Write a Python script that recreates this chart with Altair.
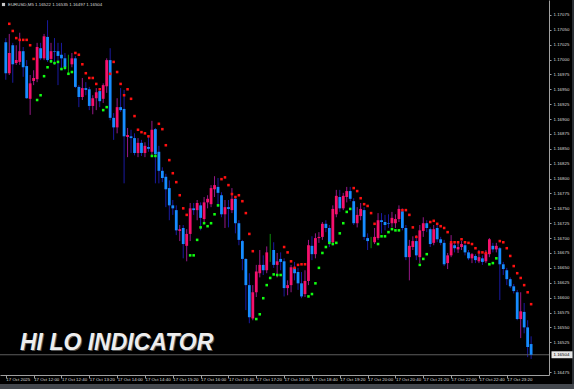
import altair as alt
import pandas as pd

symbol_line = "EURUSD,M5  1.16522 1.16535 1.16497 1.16504"
watermark = "HI LO INDICATOR"

opens = [1.17029, 1.16977, 1.17024, 1.16994, 1.16996, 1.17014, 1.16989, 1.16934, 1.16964, 1.16967,
         1.17019, 1.17002, 1.17038, 1.17001, 1.17014, 1.17014, 1.17008, 1.17002, 1.16991, 1.16992,
         1.17002, 1.16954, 1.16937, 1.16952, 1.16950, 1.16922, 1.16935, 1.16947, 1.16934, 1.16955,
         1.16999, 1.16902, 1.16886, 1.16920, 1.16917, 1.16870, 1.16871, 1.16868, 1.16843, 1.16860,
         1.16843, 1.16853, 1.16845, 1.16883, 1.16845, 1.16813, 1.16803, 1.16784, 1.16755, 1.16747,
         1.16712, 1.16717, 1.16687, 1.16707, 1.16750, 1.16747, 1.16755, 1.16732, 1.16760, 1.16757,
         1.16782, 1.16786, 1.16772, 1.16740, 1.16752, 1.16747, 1.16766, 1.16725, 1.16695, 1.16665,
         1.16621, 1.16565, 1.16609, 1.16641, 1.16655, 1.16646, 1.16676, 1.16680, 1.16655, 1.16665,
         1.16661, 1.16616, 1.16621, 1.16650, 1.16643, 1.16624, 1.16606, 1.16628, 1.16687, 1.16673,
         1.16700, 1.16702, 1.16724, 1.16717, 1.16693, 1.16740, 1.16769, 1.16750, 1.16769, 1.16779,
         1.16762, 1.16725, 1.16737, 1.16747, 1.16700, 1.16693, 1.16693, 1.16700, 1.16730, 1.16727,
         1.16725, 1.16725, 1.16725, 1.16732, 1.16745, 1.16717, 1.16668, 1.16685, 1.16695, 1.16668,
         1.16712, 1.16725, 1.16715, 1.16692, 1.16717, 1.16698, 1.16692, 1.16658, 1.16671, 1.16688,
         1.16681, 1.16685, 1.16688, 1.16676, 1.16666, 1.16670, 1.16661, 1.16666, 1.16661, 1.16673,
         1.16687, 1.16681, 1.16683, 1.16656, 1.16646, 1.16631, 1.16619, 1.16609, 1.16564, 1.16576,
         1.16550, 1.16522]

highs = [1.17036, 1.17043, 1.17028, 1.17024, 1.17045, 1.17021, 1.16999, 1.16974, 1.16982, 1.17028,
         1.17028, 1.17043, 1.17066, 1.17028, 1.17036, 1.17028, 1.17028, 1.17011, 1.17008, 1.17011,
         1.17006, 1.16957, 1.16969, 1.16962, 1.16954, 1.16940, 1.16952, 1.16952, 1.16960, 1.17002,
         1.17019, 1.16910, 1.16935, 1.16952, 1.16949, 1.16885, 1.16882, 1.16876, 1.16868, 1.16865,
         1.16861, 1.16870, 1.16897, 1.16885, 1.16855, 1.16819, 1.16808, 1.16797, 1.16764, 1.16755,
         1.16722, 1.16722, 1.16715, 1.16759, 1.16759, 1.16764, 1.16760, 1.16769, 1.16772, 1.16789,
         1.16804, 1.16801, 1.16777, 1.16764, 1.16764, 1.16784, 1.16769, 1.16730, 1.16697, 1.16666,
         1.16641, 1.16621, 1.16655, 1.16680, 1.16671, 1.16686, 1.16707, 1.16693, 1.16675, 1.16676,
         1.16666, 1.16629, 1.16655, 1.16660, 1.16650, 1.16643, 1.16646, 1.16697, 1.16703, 1.16708,
         1.16710, 1.16727, 1.16730, 1.16722, 1.16755, 1.16781, 1.16781, 1.16776, 1.16786, 1.16786,
         1.16767, 1.16752, 1.16759, 1.16752, 1.16708, 1.16702, 1.16717, 1.16742, 1.16742, 1.16739,
         1.16740, 1.16744, 1.16740, 1.16755, 1.16750, 1.16722, 1.16697, 1.16703, 1.16705, 1.16722,
         1.16735, 1.16730, 1.16718, 1.16722, 1.16722, 1.16702, 1.16697, 1.16675, 1.16705, 1.16693,
         1.16693, 1.16695, 1.16692, 1.16680, 1.16675, 1.16673, 1.16680, 1.16671, 1.16680, 1.16700,
         1.16692, 1.16692, 1.16685, 1.16660, 1.16650, 1.16634, 1.16623, 1.16613, 1.16609, 1.16591,
         1.16562, 1.16535]

lows = [1.16966, 1.16974, 1.16961, 1.16991, 1.16991, 1.16971, 1.16934, 1.16907, 1.16957, 1.16962,
        1.16999, 1.16999, 1.16996, 1.16994, 1.16991, 1.16957, 1.16982, 1.16982, 1.16974, 1.16987,
        1.16952, 1.16920, 1.16932, 1.16940, 1.16915, 1.16908, 1.16915, 1.16920, 1.16927, 1.16944,
        1.16898, 1.16865, 1.16876, 1.16912, 1.16792, 1.16836, 1.16843, 1.16839, 1.16836, 1.16838,
        1.16836, 1.16845, 1.16839, 1.16792, 1.16792, 1.16794, 1.16752, 1.16730, 1.16739, 1.16705,
        1.16695, 1.16666, 1.16661, 1.16695, 1.16739, 1.16730, 1.16713, 1.16725, 1.16750, 1.16752,
        1.16769, 1.16752, 1.16735, 1.16717, 1.16718, 1.16742, 1.16708, 1.16688, 1.16646, 1.16579,
        1.16557, 1.16562, 1.16601, 1.16634, 1.16638, 1.16641, 1.16660, 1.16650, 1.16634, 1.16646,
        1.16602, 1.16604, 1.16609, 1.16629, 1.16613, 1.16599, 1.16601, 1.16621, 1.16663, 1.16666,
        1.16692, 1.16697, 1.16710, 1.16685, 1.16688, 1.16735, 1.16744, 1.16747, 1.16760, 1.16762,
        1.16722, 1.16718, 1.16730, 1.16697, 1.16680, 1.16683, 1.16690, 1.16697, 1.16708, 1.16713,
        1.16717, 1.16718, 1.16717, 1.16727, 1.16713, 1.16663, 1.16629, 1.16680, 1.16663, 1.16658,
        1.16702, 1.16710, 1.16685, 1.16688, 1.16693, 1.16688, 1.16653, 1.16648, 1.16668, 1.16676,
        1.16675, 1.16680, 1.16671, 1.16663, 1.16658, 1.16658, 1.16658, 1.16655, 1.16658, 1.16668,
        1.16676, 1.16676, 1.16596, 1.16638, 1.16621, 1.16616, 1.16607, 1.16562, 1.16532, 1.16540,
        1.16500, 1.16497]

closes = [1.16977, 1.17011, 1.16992, 1.16999, 1.17014, 1.16987, 1.16935, 1.16960, 1.16969, 1.17021,
          1.17002, 1.17039, 1.16999, 1.17014, 1.17013, 1.17006, 1.17002, 1.16987, 1.16991, 1.17002,
          1.16954, 1.16937, 1.16952, 1.16949, 1.16922, 1.16935, 1.16945, 1.16930, 1.16957, 1.16999,
          1.16902, 1.16886, 1.16920, 1.16915, 1.16871, 1.16873, 1.16868, 1.16843, 1.16860, 1.16843,
          1.16855, 1.16850, 1.16882, 1.16841, 1.16813, 1.16801, 1.16782, 1.16755, 1.16750, 1.16713,
          1.16715, 1.16690, 1.16707, 1.16750, 1.16747, 1.16759, 1.16734, 1.16760, 1.16766, 1.16784,
          1.16789, 1.16776, 1.16740, 1.16752, 1.16749, 1.16766, 1.16725, 1.16697, 1.16665, 1.16621,
          1.16567, 1.16609, 1.16644, 1.16655, 1.16646, 1.16676, 1.16676, 1.16655, 1.16661, 1.16660,
          1.16616, 1.16621, 1.16651, 1.16641, 1.16624, 1.16602, 1.16628, 1.16688, 1.16673, 1.16700,
          1.16702, 1.16724, 1.16717, 1.16693, 1.16749, 1.16771, 1.16750, 1.16771, 1.16779, 1.16766,
          1.16725, 1.16739, 1.16749, 1.16702, 1.16695, 1.16693, 1.16702, 1.16730, 1.16727, 1.16722,
          1.16724, 1.16734, 1.16732, 1.16749, 1.16717, 1.16668, 1.16687, 1.16695, 1.16671, 1.16713,
          1.16725, 1.16717, 1.16690, 1.16715, 1.16698, 1.16692, 1.16656, 1.16671, 1.16692, 1.16683,
          1.16685, 1.16690, 1.16676, 1.16666, 1.16673, 1.16663, 1.16668, 1.16660, 1.16675, 1.16698,
          1.16681, 1.16687, 1.16656, 1.16648, 1.16631, 1.16619, 1.16611, 1.16564, 1.16577, 1.16550,
          1.16517, 1.16504]

hi_dot_bars = [1, 2, 3, 4, 5, 6, 7, 8,
               20, 21, 22, 23, 24, 25, 26, 27,
               30, 31, 32, 33, 34, 35, 36, 37, 38, 39, 40, 41,
               44, 45, 46, 47, 48, 49, 50, 51, 52,
               62, 63, 64, 65, 66, 67, 68, 69, 70, 71,
               80, 81, 82, 83, 84, 85, 86,
               100, 101, 102, 103, 104, 105, 106,
               114, 115, 116, 117, 118,
               122, 123, 124, 125, 126, 127, 128, 129, 130, 131, 132, 133, 134, 135, 136, 137, 138,
               142, 143, 144, 145, 146, 147, 148, 149, 150, 151]
hi_dot_values = [1.17060, 1.17048, 1.17036, 1.17033, 1.17033, 1.17033, 1.17024, 1.17001,
                 1.17011, 1.17008, 1.16992, 1.16977, 1.16969, 1.16969, 1.16959, 1.16950,
                 1.16976, 1.16996, 1.16979, 1.16959, 1.16940, 1.16950, 1.16934, 1.16905, 1.16882, 1.16878, 1.16876, 1.16871,
                 1.16892, 1.16883, 1.16856, 1.16831, 1.16809, 1.16794, 1.16772, 1.16750, 1.16739,
                 1.16799, 1.16802, 1.16789, 1.16774, 1.16769, 1.16772, 1.16762, 1.16742, 1.16707, 1.16678,
                 1.16685, 1.16676, 1.16661, 1.16650, 1.16655, 1.16656, 1.16656,
                 1.16784, 1.16779, 1.16767, 1.16757, 1.16754, 1.16742, 1.16724,
                 1.16747, 1.16747, 1.16739, 1.16718, 1.16702,
                 1.16727, 1.16729, 1.16724, 1.16720, 1.16717, 1.16710, 1.16693, 1.16693, 1.16693, 1.16698,
                 1.16693, 1.16692, 1.16690, 1.16683, 1.16676, 1.16676, 1.16675,
                 1.16695, 1.16693, 1.16683, 1.16670, 1.16653, 1.16641, 1.16633, 1.16621, 1.16609, 1.16589]

lo_dot_bars = [9, 10, 11, 12, 13, 14, 15, 16, 17, 18, 19,
               28, 29,
               42, 43,
               53, 54, 55, 56, 57, 58, 59, 60, 61,
               72, 73, 74, 75, 76, 77, 78, 79,
               87, 88, 89, 90, 91, 92, 93, 94, 95, 96, 97, 98, 99,
               107, 108, 109, 110, 111, 112, 113,
               119, 120, 121,
               139, 140, 141]
lo_dot_values = [1.16932, 1.16940, 1.16972, 1.16987, 1.16997, 1.16994, 1.16996, 1.16984, 1.16986, 1.16976, 1.16979,
                 1.16915, 1.16920,
                 1.16838, 1.16838,
                 1.16671, 1.16671, 1.16697, 1.16718, 1.16725, 1.16720, 1.16725, 1.16740, 1.16755,
                 1.16564, 1.16572, 1.16599, 1.16621, 1.16633, 1.16639, 1.16638, 1.16638,
                 1.16602, 1.16606, 1.16624, 1.16650, 1.16675, 1.16685, 1.16692, 1.16690, 1.16692,
                 1.16708, 1.16725, 1.16744, 1.16749,
                 1.16690, 1.16703, 1.16703, 1.16710, 1.16715, 1.16713, 1.16713,
                 1.16655, 1.16665, 1.16673,
                 1.16656, 1.16658, 1.16666]

time_tick_bars = [0, 8, 16, 24, 32, 40, 48, 56, 64, 72, 80, 88, 96, 104, 112, 120, 128, 136, 144]
time_tick_labels = ["17 Oct 2025", "17 Oct 12:00", "17 Oct 12:40", "17 Oct 13:20", "17 Oct 14:00",
                    "17 Oct 14:40", "17 Oct 15:20", "17 Oct 16:00", "17 Oct 16:40", "17 Oct 17:20",
                    "17 Oct 18:00", "17 Oct 18:40", "17 Oct 19:20", "17 Oct 20:00", "17 Oct 20:40",
                    "17 Oct 21:20", "17 Oct 22:00", "17 Oct 22:40", "17 Oct 23:20"]

price_ticks = [1.17075, 1.17050, 1.17025, 1.17000, 1.16975, 1.16950, 1.16925, 1.16900,
               1.16875, 1.16850, 1.16825, 1.16800, 1.16775, 1.16750, 1.16725, 1.16700,
               1.16675, 1.16650, 1.16625, 1.16600, 1.16575, 1.16550, 1.16525, 1.16475]

# ---- styling ----
BODY = {"bear": "#168cff", "bull": "#f5106c", "doji": "#0a900a"}
WICK = {"bear": "#1a1aa0", "bull": "#961888", "doji": "#0a900a"}
FRAME = "#a0a0a0"
TXT = "#dcdcdc"
FS = 4.4
FONT = "Liberation Sans"

kind = ["bear" if c < o else ("bull" if c > o else "doji") for o, c in zip(opens, closes)]
candles = pd.DataFrame({
    "bar": list(range(len(opens))),
    "open": opens, "high": highs, "low": lows, "close": closes,
    "kind": kind,
})
candles["body_color"] = candles["kind"].map(BODY)
candles["wick_color"] = candles["kind"].map(WICK)

hi_df = pd.DataFrame({"bar": hi_dot_bars, "v": hi_dot_values})
lo_df = pd.DataFrame({"bar": lo_dot_bars, "v": lo_dot_values})
time_df = pd.DataFrame({"bar": time_tick_bars, "label": time_tick_labels})
last_df = pd.DataFrame({"p": [closes[-1]]})
text_df = pd.DataFrame({"t": [watermark], "h": [symbol_line]})

xs = alt.Scale(domain=[-0.23, 154.7], nice=False, zero=False)
ys = alt.Scale(domain=[1.16470, 1.17100], nice=False, zero=False)

x_axis = alt.Axis(values=time_tick_bars, labels=False, ticks=True, tickSize=3,
                  tickColor=FRAME, domainColor=FRAME, grid=False, title=None)
y_axis = alt.Axis(orient="right", values=price_ticks, format=".5f",
                  labelFontSize=FS, labelFont=FONT, labelColor=TXT,
                  labelOverlap=False, tickSize=2, tickColor=FRAME,
                  domainColor=FRAME, grid=False, labelPadding=2, title=None)


def X(f):
    return alt.X(f, scale=xs, axis=x_axis, title=None)


def Y(f):
    return alt.Y(f, scale=ys, axis=y_axis, title=None)


wicks = alt.Chart(candles).mark_rule(strokeWidth=1).encode(
    x=X("bar:Q"), y=Y("low:Q"), y2="high:Q",
    color=alt.Color("wick_color:N", scale=None),
)

bodies = alt.Chart(candles).transform_filter("datum.kind != 'doji'").mark_bar(size=2.8).encode(
    x=X("bar:Q"), y=Y("open:Q"), y2="close:Q",
    color=alt.Color("body_color:N", scale=None),
)

hi_dots = alt.Chart(hi_df).mark_square(size=6.5, color="#ff1010", opacity=1).encode(
    x=X("bar:Q"), y=Y("v:Q"))
lo_dots = alt.Chart(lo_df).mark_square(size=6.5, color="#10ff10", opacity=1).encode(
    x=X("bar:Q"), y=Y("v:Q"))

bid_line = alt.Chart(last_df).mark_rule(color="#5c5c5c", strokeWidth=1).encode(
    y=Y("p:Q"), x=alt.value(0), x2=alt.value(549))

price_box = alt.Chart(last_df).mark_point(
    shape="M-1,-0.33L1,-0.33L1,0.33L-1,0.33Z", size=441, filled=True,
    color="#e6e6e6", opacity=1).encode(y=Y("p:Q"), x=alt.value(562))
price_txt = alt.Chart(last_df).mark_text(
    align="left", baseline="middle", fontSize=FS, font=FONT, color="#000000").encode(
    y=Y("p:Q"), x=alt.value(553.5), text=alt.Text("p:Q", format=".5f"))

time_txt = alt.Chart(time_df).mark_text(
    align="left", baseline="middle", fontSize=FS, font=FONT, color=TXT, dx=0.5).encode(
    x=X("bar:Q"), y=alt.value(379.5), text="label:N")

header_icon = alt.Chart(text_df).mark_square(size=10, color="#c8c8c8", opacity=1).encode(
    x=alt.value(3.5), y=alt.value(4.5))
header_txt = alt.Chart(text_df).mark_text(
    align="left", baseline="middle", fontSize=FS, font=FONT, color=TXT).encode(
    x=alt.value(8), y=alt.value(5), text="h:N")

mark_shadow = alt.Chart(text_df).mark_text(
    align="left", baseline="alphabetic", fontSize=23, font=FONT, fontWeight="bold",
    fontStyle="italic", color="#555555").encode(
    x=alt.value(21), y=alt.value(351), text="t:N")
mark_txt = alt.Chart(text_df).mark_text(
    align="left", baseline="alphabetic", fontSize=23, font=FONT, fontWeight="bold",
    fontStyle="italic", color="#eeeeee").encode(
    x=alt.value(20), y=alt.value(350), text="t:N")

bottom_band = alt.Chart(text_df).mark_rect(color="#44484e").encode(
    x=alt.value(0), x2=alt.value(574), y=alt.value(384), y2=alt.value(389))
right_band = alt.Chart(text_df).mark_rect(color="#2a2e33").encode(
    x=alt.value(572), x2=alt.value(574), y=alt.value(0), y2=alt.value(384))

chart = alt.layer(
    wicks, bottom_band, right_band, bid_line, bodies, hi_dots, lo_dots,
    mark_shadow, mark_txt, price_box, price_txt, time_txt, header_icon, header_txt,
).properties(
    width=549, height=375,
    autosize=alt.AutoSizeParams(type="none"),
    padding={"left": 0, "top": 0, "right": 25, "bottom": 14},
).configure(background="#000000").configure_view(stroke=None)

chart.save("out.html", embed_options={"renderer": "svg", "actions": False})
